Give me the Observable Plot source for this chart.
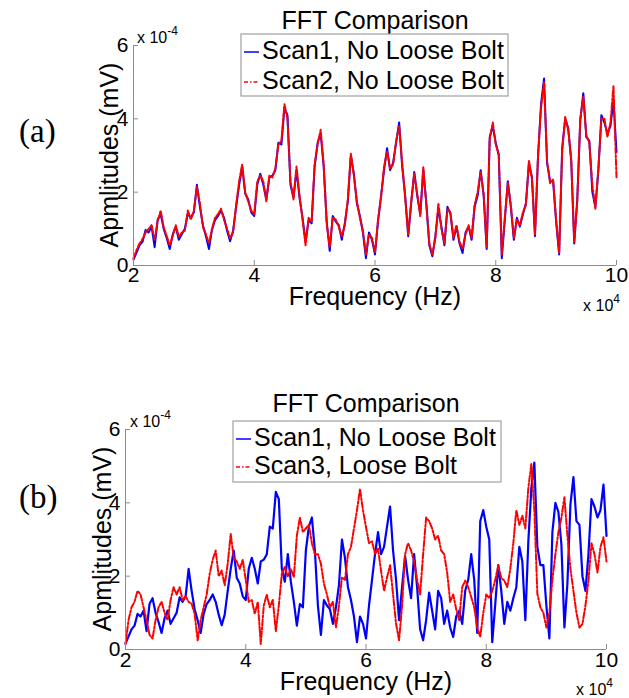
<!DOCTYPE html>
<html><head><meta charset="utf-8">
<script src="https://cdn.jsdelivr.net/npm/d3@7"></script>
<script src="https://cdn.jsdelivr.net/npm/@observablehq/plot@0.6"></script>
<style>
html,body{margin:0;padding:0;background:#fff;}
#wrap{position:relative;width:629px;height:698px;overflow:hidden;background:#fff;}
.panel{position:absolute;left:0;width:629px;height:349px;}
#overlay{position:absolute;left:0;top:0;pointer-events:none;}
</style></head>
<body><div id="wrap"></div>
<script>
// frequency (x 10^4 Hz)
const freq = [
2.00,2.05,2.10,2.15,2.20,2.25,2.30,2.35,2.40,2.45,2.50,2.55,2.60,2.65,2.70,2.75,2.80,2.85,2.90,2.95,
3.00,3.05,3.10,3.15,3.20,3.25,3.30,3.35,3.40,3.45,3.50,3.55,3.60,3.65,3.70,3.75,3.80,3.85,3.90,3.95,
4.00,4.05,4.10,4.15,4.20,4.25,4.30,4.35,4.40,4.45,4.50,4.55,4.60,4.65,4.70,4.75,4.80,4.85,4.90,4.95,
5.00,5.05,5.10,5.15,5.20,5.25,5.30,5.35,5.40,5.45,5.50,5.55,5.60,5.65,5.70,5.75,5.80,5.85,5.90,5.95,
6.00,6.05,6.10,6.15,6.20,6.25,6.30,6.35,6.40,6.45,6.50,6.55,6.60,6.65,6.70,6.75,6.80,6.85,6.90,6.95,
7.00,7.05,7.10,7.15,7.20,7.25,7.30,7.35,7.40,7.45,7.50,7.55,7.60,7.65,7.70,7.75,7.80,7.85,7.90,7.95,
8.00,8.05,8.10,8.15,8.20,8.25,8.30,8.35,8.40,8.45,8.50,8.55,8.60,8.65,8.70,8.75,8.80,8.85,8.90,8.95,
9.00,9.05,9.10,9.15,9.20,9.25,9.30,9.35,9.40,9.45,9.50,9.55,9.60,9.65,9.70,9.75,9.80,9.85,9.90,9.95,
10.00];
// amplitudes (x 10^-4 mV)
const scan1 = [
0.16,0.35,0.55,0.65,0.97,0.9,1.06,0.5,1.25,1.4,1.0,0.75,0.45,0.85,1.06,0.7,0.85,1.0,1.42,1.3,
1.45,2.2,1.6,1.1,0.8,0.45,0.97,1.24,1.35,1.5,1.3,0.95,0.66,0.95,1.6,2.2,2.7,1.96,1.8,1.45,
1.35,2.2,2.5,2.2,1.8,2.4,2.45,2.6,3.35,3.3,4.3,4.1,2.2,1.85,2.6,1.85,1.3,0.65,1.24,1.15,
2.7,3.35,3.6,2.7,1.2,0.4,1.35,1.2,1.1,0.7,1.15,1.75,3.0,2.5,1.7,1.35,0.9,0.2,0.9,0.7,
0.3,1.2,1.9,2.6,3.2,2.6,2.8,3.35,3.9,2.7,1.9,0.8,1.7,2.55,1.9,1.4,2.6,1.7,0.55,0.25,
0.8,1.55,1.06,0.55,1.6,1.4,0.7,1.06,0.6,0.34,0.9,1.06,0.7,1.6,1.9,2.6,1.9,0.45,3.5,3.8,
3.35,3.0,0.2,1.24,2.3,1.6,0.7,1.3,1.06,1.4,1.7,2.8,2.4,0.8,2.95,4.4,5.1,2.8,2.3,2.3,
1.2,0.3,3.2,4.0,3.75,2.86,0.6,1.8,3.95,4.7,3.5,3.4,2.0,1.6,2.6,4.1,3.9,3.6,3.8,4.5,
3.1];
const scan2 = [
0.2,0.42,0.6,0.72,0.9,1.0,1.1,0.7,1.2,1.5,1.05,0.8,0.55,0.8,1.1,0.78,0.9,0.95,1.5,1.25,
1.5,2.15,1.7,1.05,0.85,0.6,1.0,1.3,1.4,1.55,1.25,1.0,0.75,0.9,1.65,2.3,2.75,2.0,1.75,1.5,
1.4,2.3,2.45,2.3,1.75,2.45,2.4,2.65,3.3,3.4,4.4,4.0,2.3,1.8,2.7,1.9,1.25,0.55,1.3,1.2,
2.75,3.3,3.7,2.75,1.15,0.5,1.3,1.25,1.05,0.8,1.1,1.8,3.05,2.45,1.75,1.3,0.95,0.3,0.85,0.75,
0.35,1.25,1.85,2.7,3.1,2.65,2.75,3.4,3.8,2.8,1.85,0.85,1.75,2.5,1.95,1.35,2.7,1.65,0.6,0.3,
0.75,1.7,1.0,0.6,1.55,1.45,0.75,1.1,0.65,0.45,0.85,1.1,0.75,1.65,2.0,2.55,1.95,0.5,3.45,3.9,
3.3,3.05,0.3,1.3,2.25,1.65,0.75,1.25,1.1,1.45,1.65,2.85,2.35,0.85,3.0,4.3,5.0,2.85,2.25,2.35,
1.25,0.35,3.1,4.05,3.7,2.9,0.65,1.75,4.0,4.6,3.55,3.35,2.2,1.55,2.65,4.0,4.0,3.5,3.9,4.9,
2.4];
const scan3 = [
0.15,0.8,1.15,1.3,1.6,1.5,1.15,0.8,0.4,0.3,0.8,1.15,1.3,1.0,0.8,1.35,1.7,1.5,1.7,1.35,
1.45,1.3,1.25,0.97,0.25,0.8,1.15,1.5,2.06,2.45,2.7,2.0,2.15,1.75,2.34,3.15,2.5,2.4,2.2,2.45,
1.9,1.3,1.35,0.97,1.3,0.15,1.2,1.5,1.15,1.35,0.5,1.2,2.06,2.25,2.0,2.2,1.97,3.1,3.6,3.2,
3.3,3.4,2.9,2.6,2.6,2.34,1.8,1.5,1.15,1.3,0.6,1.2,1.97,1.9,2.6,2.8,3.3,3.8,4.38,3.8,
3.34,2.9,2.95,2.6,2.75,2.15,1.6,1.97,2.3,1.5,0.7,0.25,1.2,2.6,2.9,2.7,2.4,1.9,1.5,2.6,
3.6,3.5,3.3,3.0,3.1,2.7,2.6,2.1,1.3,1.5,1.1,0.8,1.7,1.88,1.7,1.43,1.15,0.6,0.34,1.0,
1.5,1.4,1.6,1.9,2.3,1.95,1.88,1.7,2.2,2.9,3.8,3.4,3.65,3.3,4.4,5.06,3.8,1.52,1.15,1.0,
0.6,1.0,1.9,2.6,3.2,3.6,4.15,3.1,2.2,1.6,1.0,0.6,0.7,1.2,1.88,2.9,2.6,2.1,2.8,3.06,
2.4];
const xTicks = [2,4,6,8,10];
const yTicks = [0,2,4,6];
const titleText = "FFT Comparison";
const xLabel = "Frequency (Hz)";
const yLabel = "Apmlitudes (mV)";
const panelTags = ["(a)","(b)"];
const legendA = ["Scan1, No Loose Bolt","Scan2, No Loose Bolt"];
const legendB = ["Scan1, No Loose Bolt","Scan3, Loose Bolt"];

const FONT = '"Liberation Sans", Arial, sans-serif';
const AX = "#8c8c8c";
const BLUE = "#0000ff", RED = "#ff0000", DASH = "6,2,2,2";

function makePanel(top, blue, red, m, xpad, wBlue, wRed) {
  const A = freq.map((f,i)=>({f, a: blue[i]}));
  const B = freq.map((f,i)=>({f, a: red[i]}));
  const chart = Plot.plot({
    width: 629, height: 349,
    marginLeft: m.l, marginRight: m.r, marginTop: m.t, marginBottom: m.b,
    x: {domain: [xTicks[0], xTicks[xTicks.length-1]]},
    y: {domain: [yTicks[0], yTicks[yTicks.length-1]]},
    style: {fontFamily: FONT, fontSize: "21px", color: "#000", background: "transparent", overflow: "visible"},
    marks: [
      Plot.axisX(xTicks, {tickSize: 0, tickPadding: xpad, fontSize: 21, label: null}),
      Plot.axisY(yTicks, {tickSize: 0, tickPadding: 5, fontSize: 21, label: null}),
      Plot.axisX(xTicks, {tickSize: -5, text: null, stroke: AX, label: null}),
      Plot.axisY(yTicks, {tickSize: -5, text: null, stroke: AX, label: null}),
      Plot.line(A, {x: "f", y: "a", stroke: BLUE, strokeWidth: wBlue}),
      Plot.line(B, {x: "f", y: "a", stroke: RED, strokeWidth: wRed, strokeDasharray: DASH}),
      Plot.ruleX([xTicks[0]], {stroke: AX}),
      Plot.ruleY([yTicks[0]], {stroke: AX})
    ]
  });
  const div = document.createElement("div");
  div.className = "panel";
  div.style.top = top + "px";
  div.appendChild(chart);
  document.getElementById("wrap").appendChild(div);
}

makePanel(0, scan1, scan2, {l:133, r:13, t:45, b:84}, 2, 2, 2);
makePanel(349, scan1, scan3, {l:125, r:23, t:80, b:49}, 3, 2.2, 2);

// overlay text: titles, legends, labels
const svg = d3.select("#wrap").append("svg").attr("id","overlay")
  .attr("width",629).attr("height",698).attr("font-family",FONT);

function annotate(o) {
  svg.append("text").attr("x",o.cx).attr("y",o.titleY).attr("text-anchor","middle")
    .attr("font-size",25).text(titleText);
  // legend box
  svg.append("rect").attr("x",o.lx).attr("y",o.ly).attr("width",o.lw).attr("height",o.lh)
    .attr("fill","#fff").attr("stroke","#a0a0a0").attr("stroke-width",1.2);
  o.legend.forEach((t,i)=>{
    const y = o.ly + o.row0 + i*o.rowH;
    svg.append("line").attr("x1",o.lx+3).attr("x2",o.lx+18).attr("y1",y-7).attr("y2",y-7)
      .attr("stroke", i===0?BLUE:RED).attr("stroke-width",1.5)
      .attr("stroke-dasharray", i===0?null:"4,2,1.5,2");
    svg.append("text").attr("x",o.lx+21).attr("y",y).attr("font-size",25).text(t);
  });
  // exponent above y axis
  const e = svg.append("text").attr("x",o.ex).attr("y",o.ey).attr("font-size",16);
  e.append("tspan").text("x 10");
  e.append("tspan").attr("font-size",12).attr("dy",-8).text("-4");
  // x label
  svg.append("text").attr("x",o.cx).attr("y",o.xly).attr("text-anchor","middle")
    .attr("font-size",25).text(xLabel);
  // x exponent
  const e2 = svg.append("text").attr("x",o.x4x).attr("y",o.x4y).attr("font-size",16).attr("text-anchor","end");
  e2.append("tspan").text("x 10");
  e2.append("tspan").attr("font-size",12).attr("dy",-8).text("4");
  // y label
  svg.append("text").attr("transform",`translate(${o.ylx},${o.yly}) rotate(-90)`)
    .attr("text-anchor","middle").attr("font-size",25).text(yLabel);
  // panel tag
  svg.append("text").attr("x",19).attr("y",o.tagY).attr("font-family",'"Liberation Serif","Times New Roman",serif')
    .attr("font-size",33).text(o.tag);
}

annotate({cx:375, titleY:29, lx:241, ly:34, lw:267, lh:62, row0:25, rowH:30, legend:legendA,
  ex:137, ey:43, xly:305, x4x:620, x4y:311, ylx:118, yly:155, tagY:142, tag:panelTags[0]});
annotate({cx:366, titleY:412, lx:233, ly:421, lw:268, lh:61, row0:25, rowH:28, legend:legendB,
  ex:130, ey:427, xly:690, x4x:613, x4y:695, ylx:111, yly:539, tagY:508, tag:panelTags[1]});
</script>
</body></html>
